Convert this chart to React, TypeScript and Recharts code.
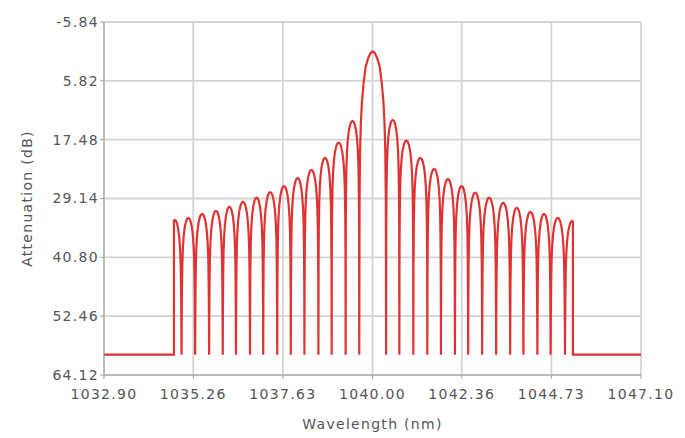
import React from 'react';
import { LineChart, Line, XAxis, YAxis, CartesianGrid, Label } from 'recharts';

// wavelength ticks (nm) and attenuation ticks (dB)
const xTicks = [1032.9, 1035.26, 1037.63, 1040.0, 1042.36, 1044.73, 1047.1];
const yTicks = [-5.84, 5.82, 17.48, 29.14, 40.8, 52.46, 64.12];

// noise floor and where the filter band is cut off
const floorDb = 60.1;
const bandEdges = [1034.75, 1045.3];

// positions of the nulls between lobes (nm)
const nulls = [
  1034.95, 1035.31, 1035.68, 1036.04, 1036.39, 1036.76, 1037.11, 1037.48, 1037.84, 1038.2,
  1038.57, 1038.92, 1039.29, 1039.65, 1040.36, 1040.71, 1041.08, 1041.45, 1041.81, 1042.18,
  1042.53, 1042.9, 1043.27, 1043.64, 1043.99, 1044.36, 1044.71, 1045.09,
];

// peak attenuation of each lobe, left to right (dB)
const lobePeaks = [
  33.4, 33.0, 32.2, 31.6, 30.8, 29.8, 29.0, 27.9, 26.7, 25.1, 23.5, 21.1, 18.1, 13.8,
  0.0,
  13.6, 17.7, 21.1, 23.3, 25.3, 26.7, 28.0, 29.0, 30.0, 31.0, 31.8, 32.2, 33.0, 33.6,
];
const mainLobe = 14;

// shape of a lobe: fraction across the lobe and dB below its peak
const lobeFrac = [0, 0.01, 0.03, 0.06, 0.1, 0.16, 0.24, 0.34, 0.42, 0.5, 0.58, 0.66, 0.76, 0.84, 0.9, 0.94, 0.97, 0.99];
const sideDrop = [99, 22, 14, 9, 6, 3.6, 1.8, 0.6, 0.12, 0, 0.12, 0.6, 1.8, 3.6, 6, 9, 14, 22];
const mainDrop = [99, 30, 20, 14, 10, 6.3, 3, 1.2, 0.3, 0, 0.3, 1.2, 3, 6.3, 10, 14, 20, 30];

const bounds = [
  2 * nulls[0] - nulls[1],
  ...nulls,
  2 * nulls[nulls.length - 1] - nulls[nulls.length - 2],
];

const data: { wl: number; att: number }[] = [];
data.push({ wl: xTicks[0], att: floorDb });
data.push({ wl: bandEdges[0], att: floorDb });
data.push({ wl: bandEdges[0], att: lobePeaks[0] + 0.1 });
lobePeaks.forEach((peak, i) => {
  const a = bounds[i];
  const b = bounds[i + 1];
  const drop = i === mainLobe ? mainDrop : sideDrop;
  lobeFrac.forEach((f, j) => {
    const wl = a + f * (b - a);
    if (wl <= bandEdges[0] || wl >= bandEdges[1]) return;
    data.push({ wl, att: Math.min(floorDb, peak + drop[j]) });
  });
});
data.push({ wl: bandEdges[1], att: lobePeaks[lobePeaks.length - 1] + 0.1 });
data.push({ wl: bandEdges[1], att: floorDb });
data.push({ wl: xTicks[xTicks.length - 1], att: floorDb });

const font = 'DejaVu Sans, Verdana, sans-serif';
const tickStyle = { fontSize: 14, fill: '#555', fontFamily: font };

export default function App() {
  return (
    <div style={{ position: 'absolute', left: 0, top: 0, width: 685, height: 438, background: '#fff' }}>
      <style>{`.recharts-text { letter-spacing: 1.3px; }`}</style>
      <LineChart width={685} height={438} data={data} margin={{ top: 22, right: 44, bottom: 5, left: 8 }}>
        <CartesianGrid stroke="#d4d4d4" strokeWidth={1.8} />
        <XAxis
          dataKey="wl"
          type="number"
          domain={[xTicks[0], xTicks[xTicks.length - 1]]}
          ticks={xTicks}
          tickFormatter={(v: number) => v.toFixed(2)}
          allowDataOverflow
          height={58}
          stroke="#a0a0a0"
          tickSize={4}
          tickMargin={10}
          tick={tickStyle}
          interval={0}
        >
          <Label value="Wavelength (nm)" position="insideBottom" offset={4} style={{ fontSize: 14, fill: '#555', fontFamily: font }} />
        </XAxis>
        <YAxis
          type="number"
          reversed
          domain={[yTicks[0], yTicks[yTicks.length - 1]]}
          ticks={yTicks}
          tickFormatter={(v: number) => v.toFixed(2)}
          allowDataOverflow
          width={96}
          stroke="#a0a0a0"
          tickSize={4}
          tickMargin={1}
          tick={tickStyle}
          interval={0}
        >
          <Label
            value="Attenuation (dB)"
            angle={-90}
            position="insideLeft"
            offset={19}
            style={{ fontSize: 14, fill: '#555', fontFamily: font, textAnchor: 'middle' }}
          />
        </YAxis>
        <Line
          type="linear"
          dataKey="att"
          stroke="#df3333"
          strokeWidth={2.2}
          dot={false}
          isAnimationActive={false}
        />
      </LineChart>
    </div>
  );
}
